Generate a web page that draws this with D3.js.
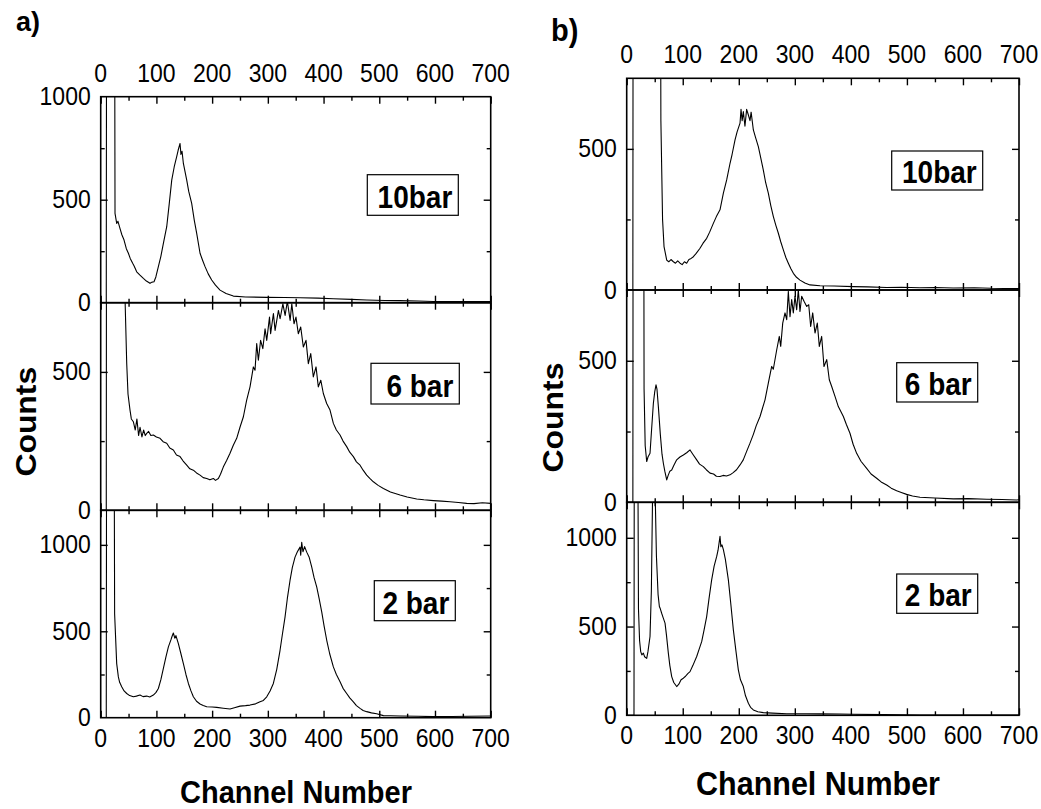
<!DOCTYPE html>
<html><head><meta charset="utf-8">
<script src="https://cdn.jsdelivr.net/npm/d3@7"></script>
<style>body{margin:0;background:#fff}svg{display:block}</style>
</head><body>
<svg id="chart" width="1041" height="809"></svg>
<script>
// ---------- data (channel, counts) ----------
const xTickValues = [0,100,200,300,400,500,600,700];
const xMinorValues = [50,150,250,350,450,550,650];

const chA10 = [0,10,11,24,25.7,28.7,31,34.7,38,41.9,46,49.7,53,57.4,60,64.6,70,76.6,82,88.5,92,95.7,99,103.5,108,112.5,118.5,123,127.5,132,136.4,139,142.4,144,146,148.4,154.4,158,163.3,168,172.3,178.3,183,187.3,193,199.2,206,214.2,225,238.1,260,298,330,357.8,390,417.6,450,477.4,510,537.3,570,597,640,670,700];
const cntA10 = [0,0,3000,3000,434,385,395,360,330,304,262,240,215,191,178,150,135,118,105,94,100,102,125,175,225,288,369,480,595,660,709,740,773,720,735,676,595,540,482,400,337,240,205,175,140,110,85,61,45,32,28,26,25,24,22,19,16,13,11,10,8,6,6,5,5];

const chA6 = [0,10,11,40,44,46.7,49,52.6,55,58.6,62,65,68,70.6,74,77,80,82.6,86,90,94.5,100,106.5,112,118.5,124,130.4,136,142.4,148,154.4,160,166.3,172,178.3,184,190.3,196,202.2,206,211.2,215,220.2,226,232.1,238,244.1,250,256.1,262,268,274,277,280,283,287,291,295,298,303,305,310,313,319,322,327,331,335,340,343,347,350.5,354.7,359,363.7,368.5,372.7,377,381.6,386.5,390.6,395,399.6,405.6,411.6,417.6,423,429.6,435,441.5,447,453.5,459,465.5,471,477.4,483,489.4,498,507.4,520,537.3,550,567.2,580,597.1,612,627,642,656.9,670,685,700];
const cntA6 = [0,0,3000,3000,740,530,420,362,330,320,290,330,270,300,265,290,270,278,285,270,272,265,260,248,242,225,218,200,194,178,163,150,145,135,127,118,115,110,115,108,115,130,157,180,206,235,260,300,338,398,446,518,506,602,542,614,584,656,614,698,638,711,650,722,692,746,704,755,686,746,674,698,638,662,590,614,530,566,482,518,446,470,422,386,362,314,290,272,250,230,210,194,175,163,145,127,115,103,90,79,66,55,48,41,38,35,33,31,28,25,24,27,25];

const chA2 = [0,10,11,23,25,28.7,31.7,34,37.7,42,46.7,52,58.6,64,70.6,76,82.6,88,94.5,99,103.5,108,112.5,117,121.5,126,128,130.4,133,135,139.4,144,148.4,153,157.4,162,166.3,172,178.3,184,190.3,200,208.2,220,232.1,240,250.1,260,268,278,286,292,298,304,309.9,316,321.9,326,330.9,335,339.8,344,348.8,353,357.8,359,360.8,363,366,369.8,374,378.8,383,387.8,392,396.7,401,405.7,411,417.6,423,429.6,435,441.5,447,453.5,459,465.5,471,477.4,486,495.3,507.4,520,537.3,570,597.1,630,660,700];
const cntA2 = [0,0,3000,3000,600,313,236,205,179,155,140,128,121,125,131,122,125,120,131,145,169,220,285,350,410,450,470,490,460,475,429,370,313,250,198,155,121,95,79,70,63,62,60,55,50,58,67,70,73,80,92,100,121,155,198,280,390,480,583,690,794,870,929,960,987,940,1015,960,990,958,930,871,810,756,690,612,530,448,370,294,250,208,170,140,115,92,70,54,42,35,28,23,12,11,10,8,6,7,8,10];

const chB10 = [0,11,12,58,61,64,66.6,71.4,75,79,83.3,87,91,95.2,99,103,107,111,115,119,124,130.8,136,142.7,148,154.6,160,166.5,172.5,178.4,184.4,188,193.3,197,202.2,204,206,208.1,211,214,217.1,220,222,226,230,234.9,239,243.8,248,252.7,257,261.7,266,270.6,275,279.5,284,288.4,293,297.4,303,309.2,318,327.1,345,370,404.4,430,463.9,490,523.3,550,582.8,620,650,695.8,700];
const cntB10 = [0,0,3000,3000,600,250,154,106,100,108,100,95,103,95,90,100,95,108,112,118,130,148,165,183,205,236,260,284,343,390,449,480,532,560,591,640,600,632,580,640,620,600,630,567,540,508,470,425,380,343,300,260,230,201,170,142,115,95,75,59,45,35,25,18,15,14,12,11,9,10,8,9,7,8,6,5,5];

const chB6 = [0,11,12,29,31,33,35.7,38,41.6,44.5,47.6,50,52.3,54,56.5,60,63,65.4,68,71.4,74,77,80.3,84,89.2,95,101.1,107,113,118,124.9,130,136.8,142,148.7,155,160,166.5,172,178,184.4,190,196,202.2,208,214,220,226,231,237.9,246.8,252.7,258.7,261.6,267.7,272.3,274.8,278.4,282.5,285.5,288.4,291.4,294.4,297.3,300.3,303.3,306.2,309.2,312.2,316.4,321.2,324.8,328.3,331.9,336,340.1,343.7,347.9,352,356.9,361.5,365.8,371.7,377.6,386.6,392,398.4,404,410.3,418,428.2,436,446,454,463.9,472,481.7,490,499.5,510,523.3,550,582.8,610,642.3,670,695.8,700];
const cntB6 = [0,0,3000,3000,400,200,144,160,173,260,350,390,415,400,338,240,170,138,110,79,95,110,114,130,150,160,167,175,185,170,150,135,126,115,103,100,92,91,95,93,97,105,115,132,150,180,209,240,270,303,362,421,480,470,539,586,551,633,669,645,745,656,716,669,728,680,750,674,728,710,692,698,621,669,598,633,551,586,480,504,433,409,374,338,303,275,244,205,173,145,120,100,85,72,61,50,41,35,28,22,18,15,12,13,11,10,8,9];

const chB2 = [0,13,14,18,21,23,25,27,29.7,32,35.7,38,41.6,44,46,47.6,49,50.5,53,56,58.3,60,62.4,65,68.4,71,74.3,77,80.3,84,89.2,93,97,101.1,105,109,113,118,124.9,129,133.8,138,142.7,147,151.6,156,160.6,163,166.5,168,170,172.5,176,181.4,186,190.3,195,199.2,203,208.1,212,217.1,221,226,234,243.8,260,285.5,320,344.9,380,404.4,460,523.3,600,695.8,700];
const cntB2 = [0,0,3000,3000,600,420,359,340,350,330,321,360,444,700,1200,3000,3000,1300,900,680,613,600,575,550,519,450,350,280,218,185,162,175,200,209,220,235,246,280,331,370,415,480,556,660,763,840,895,930,1008,950,960,933,880,763,620,481,360,256,200,162,110,68,45,30,20,15,12,9,9,8,7,6,4,2,2,2,2];

const subplotTags = ["10bar", "6 bar", "2 bar"];
const panelLetters = ["a)", "b)"];
const xTitle = "Channel Number";
const yTitle = "Counts";

// ---------- layout ----------
const FONT = "'Liberation Sans', Arial, Helvetica, sans-serif";
const panels = [
  { letter: panelLetters[0], letterPos:[16,31], letterSize:27,
    left:100.7, right:490.7, topLabelY:81.7, botLabelY:746.7,
    xTitlePos:[296,803], xTitleSize:29, yTitlePos:[36,421.7], yTitleSize:29,
    subs:[
      {top:96.7, bottom:302.7, max:1000, labels:[0,500,1000], major:[500], minor:[250,750], ch:chA10, cnt:cntA10, tag:subplotTags[0], box:[367.3,174.7,458.3,215.3], base:208.3},
      {top:302.7, bottom:510.3, max:750, labels:[0,500], major:[500], minor:[250], ch:chA6, cnt:cntA6, tag:subplotTags[1], box:[371,363.3,459.3,404], base:396.7},
      {top:510.3, bottom:717.7, max:1200, labels:[0,500,1000], major:[500,1000], minor:[250,750], ch:chA2, cnt:cntA2, tag:subplotTags[2], box:[374.3,580.7,455.3,620.7], base:613.5}
    ]},
  { letter: panelLetters[1], letterPos:[551,41], letterSize:29,
    left:626.7, right:1019, topLabelY:63.3, botLabelY:744,
    xTitlePos:[818,795], xTitleSize:30.5, yTitlePos:[563,417.5], yTitleSize:29,
    subs:[
      {top:78.3, bottom:290, max:750, labels:[0,500], major:[500], minor:[250], ch:chB10, cnt:cntB10, tag:subplotTags[0], box:[891.7,151,982.7,190], base:183.3},
      {top:290, bottom:502.3, max:750, labels:[0,500], major:[500], minor:[250], ch:chB6, cnt:cntB6, tag:subplotTags[1], box:[896.7,362.7,977.7,402], base:395},
      {top:502.3, bottom:715.3, max:1200, labels:[0,500,1000], major:[500,1000], minor:[250,750], ch:chB2, cnt:cntB2, tag:subplotTags[2], box:[896.7,574,977.7,613.3], base:606}
    ]}
];

const svg = d3.select("#chart");
const SY = 1.1;

function stext(g, x, y, str, size, weight, anchor, sy, rot) {
  return g.append("text")
    .attr("transform", `translate(${x},${y}) scale(1,${sy})` + (rot ? ` rotate(${rot})` : ""))
    .attr("text-anchor", anchor)
    .style("font-family", FONT)
    .style("font-size", size + "px")
    .style("font-weight", weight)
    .attr("fill", "#000")
    .text(str);
}

panels.forEach((p, pi) => {
  const g = svg.append("g");
  const x = d3.scaleLinear().domain([0, 700]).range([p.left, p.right]);

  p.subs.forEach((s, si) => {
    const y = d3.scaleLinear().domain([0, s.max]).range([s.bottom, s.top]);
    const sg = g.append("g");
    const clipId = `clip-${pi}-${si}`;
    svg.append("clipPath").attr("id", clipId).append("rect")
      .attr("x", p.left).attr("y", s.top).attr("width", p.right - p.left).attr("height", s.bottom - s.top);

    const data = s.ch.map((c, i) => [c, s.cnt[i]]);
    const line = d3.line().x(d => x(d[0])).y(d => y(d[1]));
    sg.append("path").datum(data)
      .attr("clip-path", `url(#${clipId})`)
      .attr("d", line)
      .attr("fill", "none").attr("stroke", "#000").attr("stroke-width", 1.1)
      .attr("stroke-linejoin", "round");

    // inward ticks on all four edges
    const addAxis = (axis, tx, ty) => {
      const a = sg.append("g").attr("transform", `translate(${tx},${ty})`).call(axis);
      a.select(".domain").remove();
      a.selectAll("text").remove();
      a.selectAll("line").attr("stroke", "#000").attr("stroke-width", 1.4);
    };
    addAxis(d3.axisBottom(x).tickValues(xTickValues).tickSize(7), 0, s.top);
    addAxis(d3.axisBottom(x).tickValues(xMinorValues).tickSize(4), 0, s.top);
    addAxis(d3.axisTop(x).tickValues(xTickValues).tickSize(7), 0, s.bottom);
    addAxis(d3.axisTop(x).tickValues(xMinorValues).tickSize(4), 0, s.bottom);
    addAxis(d3.axisRight(y).tickValues(s.major).tickSize(7), p.left, 0);
    addAxis(d3.axisRight(y).tickValues(s.minor).tickSize(4), p.left, 0);
    addAxis(d3.axisLeft(y).tickValues(s.major).tickSize(7), p.right, 0);
    addAxis(d3.axisLeft(y).tickValues(s.minor).tickSize(4), p.right, 0);

    sg.append("rect").attr("x", p.left).attr("y", s.top)
      .attr("width", p.right - p.left).attr("height", s.bottom - s.top)
      .attr("fill", "none").attr("stroke", "#000").attr("stroke-width", 1.6);

    // y tick labels
    s.labels.forEach(v => {
      stext(sg, p.left - 10, y(v) + 8.5, String(v), 23, "normal", "end", SY);
    });

    // tag box
    const [bx0, by0, bx1, by1] = s.box;
    sg.append("rect").attr("x", bx0).attr("y", by0).attr("width", bx1 - bx0).attr("height", by1 - by0)
      .attr("fill", "#fff").attr("stroke", "#000").attr("stroke-width", 1.2);
    stext(sg, bx1 - 6, s.base, s.tag, 28, "bold", "end", 1.14);
  });

  // x tick labels top and bottom
  xTickValues.forEach(v => {
    stext(g, x(v), p.topLabelY, String(v), 23, "normal", "middle", SY);
    stext(g, x(v), p.botLabelY, String(v), 23, "normal", "middle", SY);
  });

  stext(g, p.xTitlePos[0], p.xTitlePos[1], xTitle, p.xTitleSize, "bold", "middle", 1.1);
  stext(g, p.yTitlePos[0], p.yTitlePos[1], yTitle, p.yTitleSize, "bold", "middle", 1.1, -90);
  stext(g, p.letterPos[0], p.letterPos[1], p.letter, p.letterSize, "bold", "start", 1.05);
});
</script>
</body></html>
